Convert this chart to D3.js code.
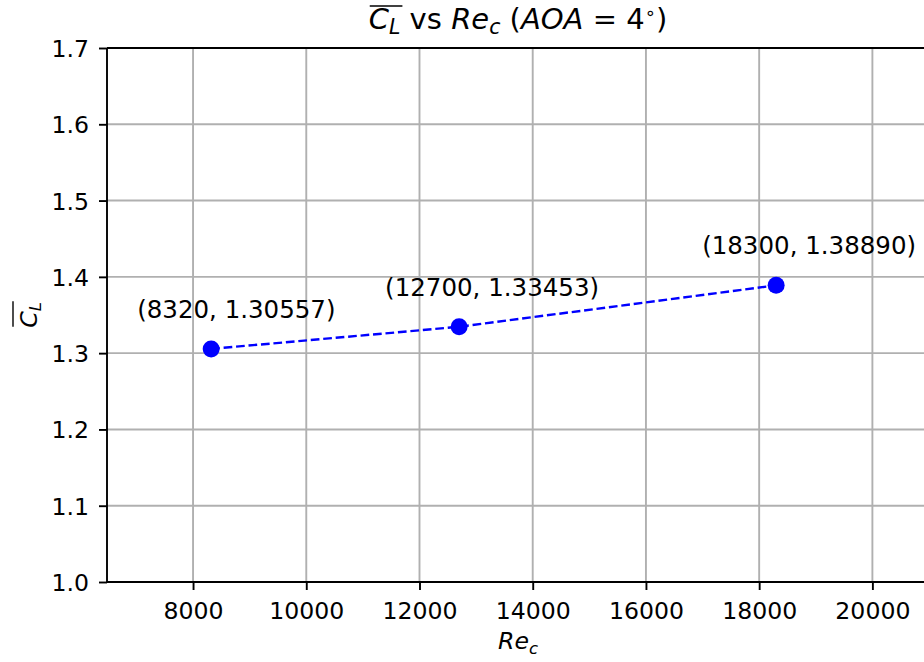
<!DOCTYPE html>
<html>
<head>
<meta charset="utf-8">
<script src="https://cdn.jsdelivr.net/npm/d3@7"></script>
<style>
  html, body { margin: 0; padding: 0; background: #fff; }
  svg { display: block; }
  text { font-family: "DejaVu Sans", sans-serif; }
</style>
</head>
<body>
<svg id="chart" width="924" height="662"></svg>
<script>
// Mean lift coefficient at AOA = 4 deg for three chord Reynolds numbers
const reynolds = [8320, 12700, 18300];
const liftCoef = [1.30557, 1.33453, 1.38890];
const xTicks = [8000, 10000, 12000, 14000, 16000, 18000, 20000];
const yTicks = [1.0, 1.1, 1.2, 1.3, 1.4, 1.5, 1.6, 1.7];

const plot = { left: 107, right: 929, top: 48, bottom: 582 };
const FS = 23.6;

const svg = d3.select("#chart");

const x = d3.scaleLinear().domain([6480, 21000]).range([plot.left, plot.right]);
const y = d3.scaleLinear().domain([1.0, 1.7]).range([plot.bottom, plot.top]);

// grid
const grid = svg.append("g").attr("stroke", "#b0b0b0").attr("stroke-width", 1.9);
grid.selectAll("line.vx").data(xTicks).join("line").attr("class", "vx")
  .attr("x1", d => x(d)).attr("x2", d => x(d))
  .attr("y1", plot.top).attr("y2", plot.bottom);
grid.selectAll("line.hy").data(yTicks).join("line").attr("class", "hy")
  .attr("x1", plot.left).attr("x2", plot.right)
  .attr("y1", d => y(d)).attr("y2", d => y(d));

// axes
const xAxis = d3.axisBottom(x).tickValues(xTicks).tickFormat(d3.format("d"))
  .tickSizeOuter(0).tickSizeInner(8);
const yAxis = d3.axisLeft(y).tickValues(yTicks).tickFormat(d3.format(".1f"))
  .tickSizeOuter(0).tickSizeInner(8);

const gx = svg.append("g").attr("transform", `translate(0,${plot.bottom})`).call(xAxis);
const gy = svg.append("g").attr("transform", `translate(${plot.left},0)`).call(yAxis);
[gx, gy].forEach(g => {
  g.select(".domain").remove();
  g.selectAll(".tick line").attr("stroke", "#000").attr("stroke-width", 1.9);
  g.selectAll(".tick text").attr("fill", "#000")
    .style("font-family", "'DejaVu Sans', sans-serif").style("font-size", FS + "px");
});
gx.selectAll(".tick text").attr("dy", null).attr("y", 37);
gy.selectAll(".tick text").attr("x", -18).attr("dy", "0.36em");

// spines
const spine = svg.append("g").attr("stroke", "#000").attr("stroke-width", 1.9);
spine.append("line").attr("x1", plot.left).attr("x2", plot.left).attr("y1", plot.top).attr("y2", plot.bottom);
spine.append("line").attr("x1", plot.left).attr("x2", plot.right).attr("y1", plot.bottom).attr("y2", plot.bottom);
spine.append("line").attr("x1", plot.left).attr("x2", plot.right).attr("y1", plot.top).attr("y2", plot.top);
spine.append("line").attr("x1", plot.right).attr("x2", plot.right).attr("y1", plot.top).attr("y2", plot.bottom);

// data series
const pts = reynolds.map((r, i) => ({ r, c: liftCoef[i] }));
const line = d3.line().x(d => x(d.r)).y(d => y(d.c));
svg.append("path").datum(pts).attr("d", line)
  .attr("fill", "none").attr("stroke", "#0000ff").attr("stroke-width", 2.4)
  .attr("stroke-dasharray", "8.7,3.8");
svg.selectAll("circle.pt").data(pts).join("circle").attr("class", "pt")
  .attr("cx", d => x(d.r)).attr("cy", d => y(d.c)).attr("r", 8.5)
  .attr("fill", "#0000ff");

// point annotations
svg.selectAll("text.ann").data(pts).join("text").attr("class", "ann")
  .attr("x", d => x(d.r) - 74).attr("y", d => y(d.c) - 31)
  .attr("font-size", 24.5).attr("fill", "#000")
  .text(d => `(${d.r}, ${d.c.toFixed(5)})`);

// title with overlined C_L
const title = svg.append("text").attr("x", 518).attr("y", 29)
  .attr("text-anchor", "middle").attr("font-size", 29).attr("fill", "#000");
title.append("tspan").attr("font-style", "italic").text("C");
title.append("tspan").attr("font-style", "italic").attr("font-size", 20.5).attr("dy", 5).text("L");
title.append("tspan").attr("dy", -5).text(" vs ");
title.append("tspan").attr("font-style", "italic").text("Re");
title.append("tspan").attr("font-style", "italic").attr("font-size", 20.5).attr("dy", 5).text("c");
title.append("tspan").attr("dy", -5).text(" (");
title.append("tspan").attr("font-style", "italic").text("AOA");
title.append("tspan").text(" = 4");
title.append("tspan").attr("font-size", 18).attr("dy", -10).text("\u2218");
title.append("tspan").attr("dy", 10).text(")");
{
  const n = title.node();
  const s = n.getStartPositionOfChar(0);
  const e = n.getEndPositionOfChar(1);
  svg.append("line").attr("x1", s.x + 1).attr("x2", e.x + 2)
    .attr("y1", 6).attr("y2", 6).attr("stroke", "#000").attr("stroke-width", 1.6);
}

// x-axis label
const xl = svg.append("text").attr("x", 518).attr("y", 649)
  .attr("text-anchor", "middle").attr("font-size", FS).attr("fill", "#000");
xl.append("tspan").attr("font-style", "italic").text("Re");
xl.append("tspan").attr("font-style", "italic").attr("font-size", 16.5).attr("dy", 5).text("c");

// y-axis label with overline
const yg = svg.append("g").attr("transform", `translate(37,${(plot.top + plot.bottom) / 2}) rotate(-90)`);
const yl = yg.append("text").attr("x", 0).attr("y", 0)
  .attr("text-anchor", "middle").attr("font-size", FS).attr("fill", "#000");
yl.append("tspan").attr("font-style", "italic").text("C");
yl.append("tspan").attr("font-style", "italic").attr("font-size", 16.5).attr("dy", 4).text("L");
{
  const n = yl.node();
  const s = n.getStartPositionOfChar(0);
  const e = n.getEndPositionOfChar(1);
  yg.append("line").attr("x1", s.x + 1).attr("x2", e.x + 1)
    .attr("y1", -24).attr("y2", -24).attr("stroke", "#000").attr("stroke-width", 1.4);
}
</script>
</body>
</html>
